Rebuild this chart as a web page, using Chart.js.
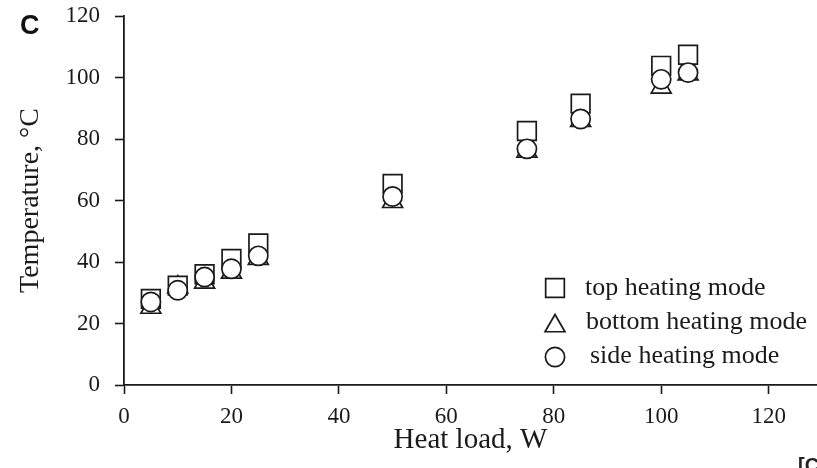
<!DOCTYPE html>
<html>
<head>
<meta charset="utf-8">
<script src="https://cdn.jsdelivr.net/npm/chart.js@4.4.1/dist/chart.umd.min.js"></script>
<style>
  html,body{margin:0;padding:0;background:#fff;overflow:hidden;}
  #wrap{width:817px;height:468px;}
</style>
</head>
<body>
<div id="wrap"><canvas id="c" width="817" height="468"></canvas></div>
<script>
// data
const heatLoad=[5,10,15,20,25,50,75,85,100,105];
const topMode=[28,32.3,36,41,46,65.4,82.6,91.5,103.8,107.4];
const bottomMode=[25.2,31.8,33.4,36.6,41.1,59.6,76,86,96.8,101.1];
const sideMode=[27,30.8,35.1,37.8,42,61.3,76.8,86.5,99.4,101.6];
const seriesNames=["top heating mode","bottom heating mode","side heating mode"];
const xTicks=[0,20,40,60,80,100,120];
const yTicks=[0,20,40,60,80,100,120];

const ink="#1a1a1a";
const serif="'Liberation Serif','Times New Roman',serif";

function pts(ys){return heatLoad.map((x,i)=>({x:x,y:ys[i]}));}

function mark(style,radius,order){
  return {
    pointStyle:style,pointRadius:radius,pointHoverRadius:radius,
    pointBackgroundColor:"#fff",pointBorderColor:ink,pointBorderWidth:1.7,
    showLine:false,order:order
  };
}

const styles=[["rect",13.2],["triangle",11.5],["circle",9.6]];

/* legend inside plot + panel letters */
const extras={
  id:"extras",
  afterDraw(chart){
    const ctx=chart.ctx;
    ctx.save();
    const rows=[{y:288,ty:288,tx:585},{y:326,ty:322,tx:586},{y:357,ty:356,tx:590}];
    rows.forEach((r,i)=>{
      ctx.fillStyle="#fff";ctx.strokeStyle=ink;ctx.lineWidth=1.7;
      Chart.helpers.drawPoint(ctx,{pointStyle:styles[i][0],radius:styles[i][1],rotation:0,borderWidth:1.7},555,r.y);
      ctx.fillStyle=ink;
      ctx.font="26px "+serif;
      ctx.textAlign="left";ctx.textBaseline="middle";
      ctx.fillText(seriesNames[i],r.tx,r.ty);
    });
    ctx.font="bold 27px 'Liberation Sans',Arial,sans-serif";
    ctx.fillStyle="#111";
    ctx.textBaseline="alphabetic";
    ctx.fillText("C",20,34);
    ctx.font="bold 20px 'Liberation Sans',Arial,sans-serif";
    ctx.fillStyle="#222";
    ctx.fillText("[C",798,472);
    ctx.restore();
  }
};

new Chart(document.getElementById("c"),{
  type:"scatter",
  data:{
    datasets:[
      Object.assign({label:seriesNames[0],data:pts(topMode)},mark(styles[0][0],styles[0][1],2)),
      Object.assign({label:seriesNames[1],data:pts(bottomMode)},mark(styles[1][0],styles[1][1],3)),
      Object.assign({label:seriesNames[2],data:pts(sideMode)},mark(styles[2][0],styles[2][1],1))
    ]
  },
  options:{
    responsive:false,animation:false,
    layout:{autoPadding:false,padding:{top:16,right:0,left:0,bottom:0}},
    plugins:{legend:{display:false},tooltip:{enabled:false}},
    scales:{
      x:{
        type:"linear",min:0,max:129,
        afterBuildTicks(s){s.ticks=xTicks.map(v=>({value:v}));},
        afterFit(s){s.height=83;s.paddingLeft=0;s.paddingRight=0;},
        ticks:{font:{family:serif,size:23},color:ink,padding:9},
        grid:{drawOnChartArea:false,tickLength:9,tickWidth:1.6,color:ink},
        border:{color:ink,width:1.8},
        title:{display:true,text:"Heat load, W",font:{family:serif,size:29},color:ink,padding:{top:0,bottom:10}}
      },
      y:{
        type:"linear",min:0,max:120,
        afterBuildTicks(s){s.ticks=yTicks.map(v=>({value:v}));},
        afterFit(s){s.width=124;s.paddingTop=0;s.paddingBottom=0;},
        ticks:{font:{family:serif,size:23},color:ink,padding:15},
        grid:{drawOnChartArea:false,tickLength:9,tickWidth:1.6,color:ink},
        border:{color:ink,width:1.8},
        title:{display:true,text:"Temperature, °C",font:{family:serif,size:28},color:ink,padding:{top:14,bottom:0}}
      }
    }
  },
  plugins:[extras]
});
</script>
</body>
</html>
